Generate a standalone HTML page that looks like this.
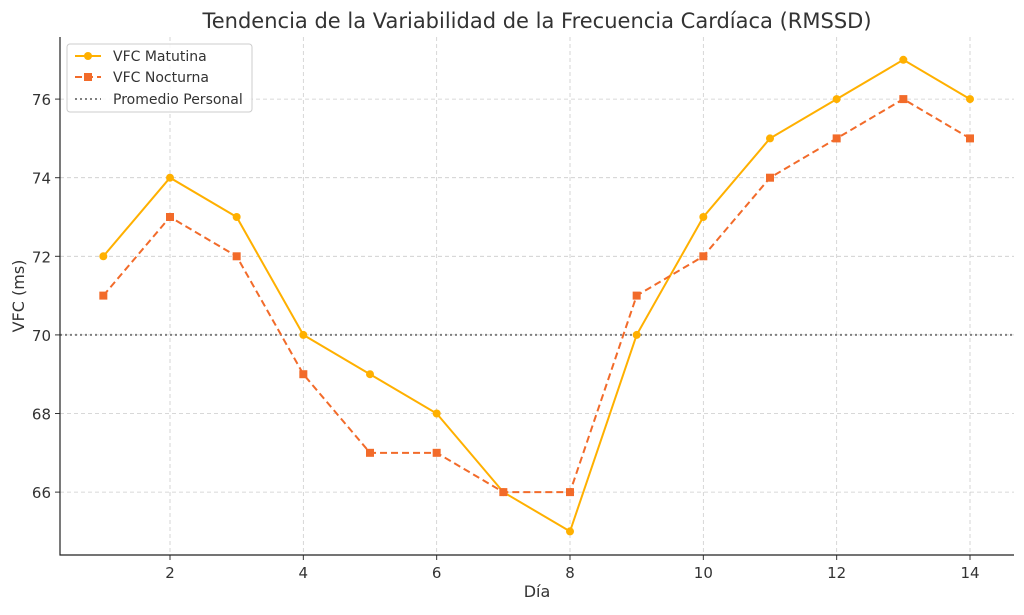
<!DOCTYPE html>
<html><head><meta charset="utf-8"><style>
body{margin:0;background:#fff;font-family:"DejaVu Sans","Liberation Sans",sans-serif}
svg text{font-family:"DejaVu Sans","Liberation Sans",sans-serif}
</style></head><body>
<svg id="c" width="1024" height="611" xmlns="http://www.w3.org/2000/svg"></svg>
<script>
const days=[1,2,3,4,5,6,7,8,9,10,11,12,13,14];
const morning=[72,74,73,70,69,68,66,65,70,73,75,76,77,76];
const night=[71,73,72,69,67,67,66,66,71,72,74,75,76,75];
const average=70;
const xTicks=[2,4,6,8,10,12,14];
const yTicks=[66,68,70,72,74,76];
const L=60,R=1014,T=37,B=555,x0=0.35,x1=14.66,y0=64.4,y1=77.58;
const X=v=>L+(v-x0)/(x1-x0)*(R-L);
const Y=v=>B-(v-y0)/(y1-y0)*(B-T);
const s=document.getElementById('c');const NS='http://www.w3.org/2000/svg';
function mk(t,a,p){const e=document.createElementNS(NS,t);for(const k in a)e.setAttribute(k,a[k]);(p||s).appendChild(e);return e;}
xTicks.forEach(v=>{
const g=mk('line',{x1:X(v),x2:X(v),y1:T,y2:B,stroke:'#ccc','stroke-dasharray':'4,3','stroke-width':0.8});


mk('line',{x1:X(v),x2:X(v),y1:B,y2:B+5,stroke:'#333'});
const t=mk('text',{x:X(v),y:B+23,'text-anchor':'middle','font-size':15,fill:'#333'});t.textContent=v;


});
yTicks.forEach(v=>{
const g=mk('line',{x1:L,x2:R,y1:Y(v),y2:Y(v),stroke:'#ccc','stroke-dasharray':'4,3','stroke-width':0.8});


mk('line',{x1:L-5,x2:L,y1:Y(v),y2:Y(v),stroke:'#333'});
const t=mk('text',{x:L-9,y:Y(v)+6,'text-anchor':'end','font-size':15,fill:'#333'});t.textContent=v;


});
const av=mk('line',{x1:L,x2:R,y1:Y(average),y2:Y(average),stroke:'#808080','stroke-width':2,'stroke-dasharray':'2,3'});


const pm=mk('polyline',{points:days.map((d,i)=>X(d)+','+Y(morning[i])).join(' '),fill:'none',stroke:'#FFB000','stroke-width':2});


const pn=mk('polyline',{points:days.map((d,i)=>X(d)+','+Y(night[i])).join(' '),fill:'none',stroke:'#F26B2A','stroke-width':2,'stroke-dasharray':'7,4'});


days.forEach((d,i)=>{
const c=mk('circle',{cx:X(d),cy:Y(morning[i]),r:4,fill:'#FFB000'});


const r=mk('rect',{x:X(d)-4,y:Y(night[i])-4,width:8,height:8,fill:'#F26B2A'});


});
mk('path',{d:`M${L} ${T}V${B}H${R}`,fill:'none',stroke:'#222','stroke-width':1.2});
</script>
<svg style="position:absolute;left:0;top:0" width="1024" height="611" xmlns="http://www.w3.org/2000/svg">
<text x="537" y="28" text-anchor="middle" font-size="21" fill="#333">Tendencia de la Variabilidad de la Frecuencia Cardíaca (RMSSD)</text>
<text x="537" y="597" text-anchor="middle" font-size="16" fill="#333">Día</text>
<text x="24" y="296" text-anchor="middle" font-size="16" fill="#333" transform="rotate(-90 24 296)">VFC (ms)</text>
<g>
<rect x="67" y="44" width="185" height="68" rx="3" fill="#fff" fill-opacity="0.85" stroke="#ccc"/>
<g><line x1="75" x2="101" y1="56" y2="56" stroke="#FFB000" stroke-width="2"/><circle cx="88" cy="56" r="4" fill="#FFB000"/><text x="113" y="61" font-size="14" fill="#333">VFC Matutina</text></g>
<g><line x1="75" x2="101" y1="77" y2="77" stroke="#F26B2A" stroke-width="2" stroke-dasharray="7,4"/><rect x="84" y="73" width="8" height="8" fill="#F26B2A"/><text x="113" y="82" font-size="14" fill="#333">VFC Nocturna</text></g>
<g><line x1="75" x2="101" y1="99" y2="99" stroke="#808080" stroke-width="2" stroke-dasharray="2,3"/><text x="113" y="104" font-size="14" fill="#333">Promedio Personal</text></g>
</g>
</svg>
</body></html>
